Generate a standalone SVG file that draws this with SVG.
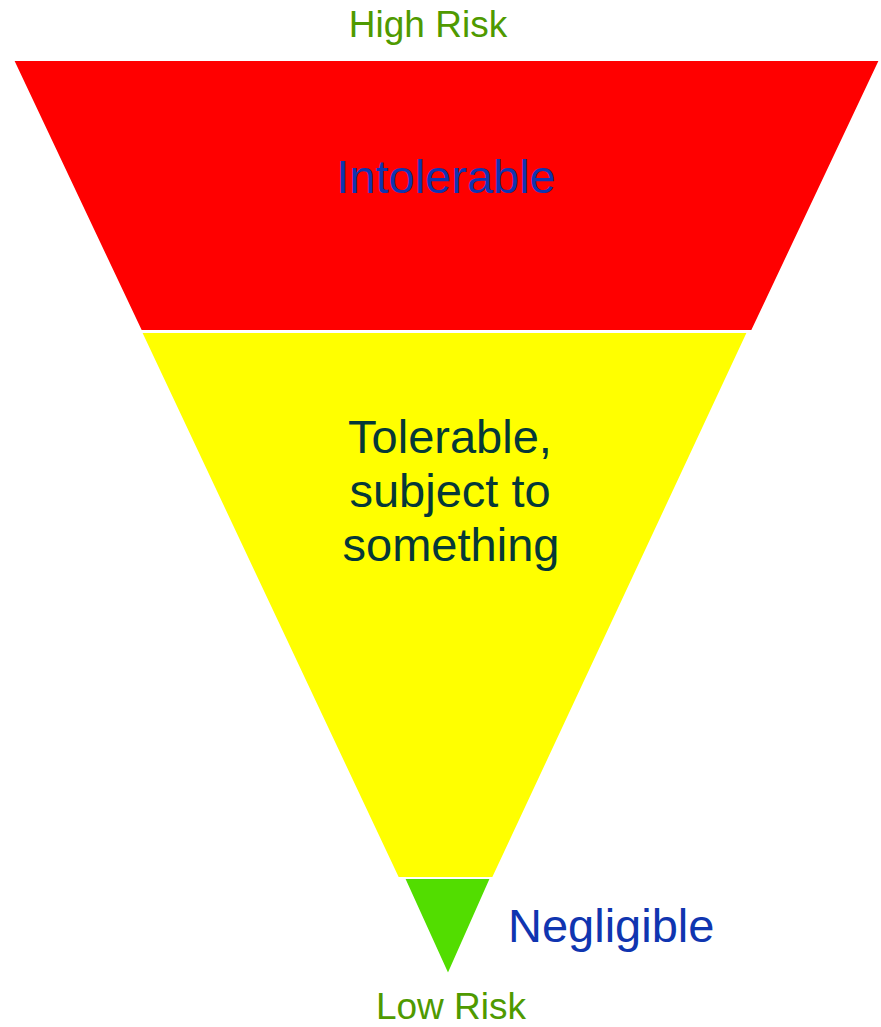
<svg xmlns="http://www.w3.org/2000/svg" width="881" height="1027" viewBox="0 0 881 1027">
<style>
.band{stroke:#ffffff;stroke-width:2}
.t{font-family:"Liberation Sans",Arial,sans-serif}
.risk{fill:#4f9a00;font-size:37px}
.big{font-size:47px}
</style>
<rect width="881" height="1027" fill="#ffffff"/>
<g id="intolerable">
<polygon class="band" points="13,60 880,60 752,331 141,331" fill="#ff0000"/>
<text class="t big" x="446" y="193" text-anchor="middle" fill="#1035b0">Intolerable</text>
</g>
<g id="tolerable">
<polygon class="band" points="141,332 748,332 493,878 398,878" fill="#ffff00"/>
<text class="t big" x="450" y="453" text-anchor="middle" fill="#053838">Tolerable,</text>
<text class="t big" x="450" y="507" text-anchor="middle" fill="#053838">subject to</text>
<text class="t big" x="451" y="561" text-anchor="middle" fill="#053838">something</text>
</g>
<g id="negligible">
<polygon class="band" points="404,878 491,878 448,975" fill="#52dd00"/>
<text class="t" x="508" y="942" font-size="47" fill="#1035b0">Negligible</text>
</g>
<g id="labels">
<text class="t risk" x="428" y="37" text-anchor="middle">High Risk</text>
<text class="t risk" x="451" y="1019" text-anchor="middle">Low Risk</text>
</g>
<g id="connectors"/>
</svg>
